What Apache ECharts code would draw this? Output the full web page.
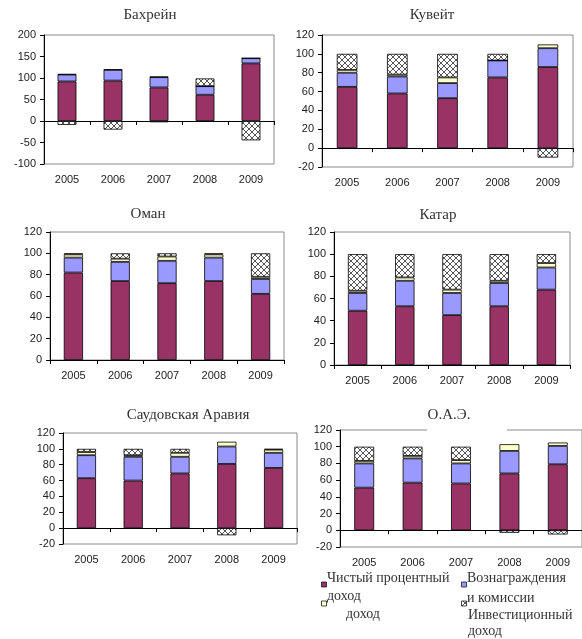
<!DOCTYPE html>
<html>
<head>
<meta charset="utf-8">
<script src="https://cdn.jsdelivr.net/npm/echarts@6/dist/echarts.min.js"></script>
<style>
html, body { margin: 0; padding: 0; background: #fff; }
#chart { width: 582px; height: 639px; }
</style>
</head>
<body>
<div id="chart"></div>
<script>
// Income structure of banks by country, % of total operating income
const years = ['2005', '2006', '2007', '2008', '2009'];
const countries = ['Бахрейн', 'Кувейт', 'Оман', 'Катар', 'Саудовская Аравия', 'О.А.Э.'];

// Net interest income
const interestBahrain = [92, 94, 78, 61, 134];
const interestKuwait  = [65, 58, 53, 75, 86];
const interestOman    = [82, 74, 72, 74, 62];
const interestQatar   = [49, 53, 45, 53, 68];
const interestSaudi   = [63, 60, 69, 81, 76];
const interestUAE     = [51, 57, 56, 68, 79];

// Fees and commissions
const feesBahrain = [16, 25, 24, 20, 12];
const feesKuwait  = [15, 18, 16, 18, 20];
const feesOman    = [14, 18, 21, 22, 14];
const feesQatar   = [16, 23, 20, 21, 20];
const feesSaudi   = [29, 30, 21, 22, 19];
const feesUAE     = [29, 29, 24, 27, 22];

// Other income
const otherBahrain = [1, 1, 1, 0, 0];
const otherKuwait  = [3, 2, 6, 0, 4];
const otherOman    = [3, 3, 4, 3, 2];
const otherQatar   = [2, 3, 3, 2, 4];
const otherSaudi   = [4, 2, 5, 6, 4];
const otherUAE     = [3, 3, 4, 8, 4];

// Investment income
const investBahrain = [-9, -20, -3, 18, -45];
const investKuwait  = [17, 22, 25, 7, -10];
const investOman    = [1, 5, 3, 1, 22];
const investQatar   = [33, 21, 32, 24, 8];
const investSaudi   = [4, 8, 5, -9, 1];
const investUAE     = [17, 11, 16, -3, -5];

// Value-axis tick labels per panel
const ticksBahrain = [-100, -50, 0, 50, 100, 150, 200];
const ticksKuwait  = [-20, 0, 20, 40, 60, 80, 100, 120];
const ticksOman    = [0, 20, 40, 60, 80, 100, 120];
const ticksQatar   = [0, 20, 40, 60, 80, 100, 120];
const ticksSaudi   = [-20, 0, 20, 40, 60, 80, 100, 120];
const ticksUAE     = [-20, 0, 20, 40, 60, 80, 100, 120];

const legendInterest = ['Чистый процентный', 'доход'];
const legendFees = ['Вознаграждения', 'и комиссии'];
const legendOther = ['доход'];
const legendInvest = ['Инвестиционный', 'доход'];

const panels = [
  { interest: interestBahrain, fees: feesBahrain, other: otherBahrain, invest: investBahrain, ticks: ticksBahrain },
  { interest: interestKuwait,  fees: feesKuwait,  other: otherKuwait,  invest: investKuwait,  ticks: ticksKuwait },
  { interest: interestOman,    fees: feesOman,    other: otherOman,    invest: investOman,    ticks: ticksOman },
  { interest: interestQatar,   fees: feesQatar,   other: otherQatar,   invest: investQatar,   ticks: ticksQatar },
  { interest: interestSaudi,   fees: feesSaudi,   other: otherSaudi,   invest: investSaudi,   ticks: ticksSaudi },
  { interest: interestUAE,     fees: feesUAE,     other: otherUAE,     invest: investUAE,     ticks: ticksUAE }
];

// Plot rectangles and title anchors
const layout = [
  { left: 44,  top: 35,  width: 230, height: 129, titleX: 150, titleY: 8 },
  { left: 322, top: 35,  width: 251, height: 132, titleX: 432, titleY: 8 },
  { left: 50,  top: 232, width: 234, height: 128, titleX: 148, titleY: 207 },
  { left: 334, top: 232, width: 236, height: 133, titleX: 438, titleY: 208 },
  { left: 63,  top: 433, width: 234, height: 111, titleX: 188, titleY: 408 },
  { left: 340, top: 430, width: 243, height: 117, titleX: 449, titleY: 408 }
];

const COLORS = { interest: '#993366', fees: '#9999FF', other: '#FFFFCC' };
const SANS = 'Liberation Sans, Arial, sans-serif';
const SERIF = 'Liberation Serif, Times New Roman, serif';

// Cross-hatch fill for investment income
function makeHatch() {
  const c = document.createElement('canvas');
  c.width = 6; c.height = 6;
  const g = c.getContext('2d');
  g.fillStyle = '#fff';
  g.fillRect(0, 0, 6, 6);
  g.strokeStyle = '#444';
  g.lineWidth = 0.9;
  g.beginPath();
  g.moveTo(0, 0); g.lineTo(6, 6);
  g.moveTo(6, 0); g.lineTo(0, 6);
  g.stroke();
  return c;
}
const hatch = { image: makeHatch(), repeat: 'repeat' };

const grid = [], xAxis = [], yAxis = [], series = [], title = [];

panels.forEach((p, i) => {
  const L = layout[i];
  grid.push({
    left: L.left, top: L.top, width: L.width, height: L.height,
    show: true, borderColor: '#8a8a8a', borderWidth: 1, backgroundColor: 'transparent',
    containLabel: false
  });
  title.push({
    text: countries[i], left: L.titleX, top: L.titleY, textAlign: 'center', padding: 0,
    textStyle: { fontFamily: SERIF, fontSize: 15, fontWeight: 'normal', color: '#333' }
  });
  // axis along zero with ticks between categories
  xAxis.push({
    type: 'category', gridIndex: i, data: years,
    axisLine: { onZero: true, lineStyle: { color: '#000', width: 1 } },
    axisTick: { show: true, inside: false, length: 4, lineStyle: { color: '#000' } },
    axisLabel: { show: false }
  });
  // year labels along the bottom of the plot area
  xAxis.push({
    type: 'category', gridIndex: i, data: years, position: 'bottom',
    axisLine: { show: false, onZero: false },
    axisTick: { show: false },
    axisLabel: { show: true, margin: 10, fontFamily: SANS, fontSize: 11, color: '#222' }
  });
  const t = p.ticks;
  yAxis.push({
    type: 'value', gridIndex: i,
    min: t[0], max: t[t.length - 1], interval: t[1] - t[0],
    axisLine: { show: true, lineStyle: { color: '#000', width: 1 } },
    axisTick: { show: true, inside: false, length: 4, lineStyle: { color: '#000' } },
    axisLabel: { margin: 8, fontFamily: SANS, fontSize: 11, color: '#222' },
    splitLine: { show: false }
  });
  const common = {
    type: 'bar', xAxisIndex: i * 2, yAxisIndex: i, stack: 'total' + i,
    barWidth: '41%', animation: false,
    emphasis: { disabled: true }
  };
  const border = { borderColor: '#000', borderWidth: 0.8 };
  series.push(Object.assign({}, common, { name: 'interest', data: p.interest, itemStyle: Object.assign({ color: COLORS.interest }, border) }));
  series.push(Object.assign({}, common, { name: 'fees', data: p.fees, itemStyle: Object.assign({ color: COLORS.fees }, border) }));
  series.push(Object.assign({}, common, { name: 'other', data: p.other, itemStyle: Object.assign({ color: COLORS.other }, border) }));
  series.push(Object.assign({}, common, { name: 'invest', data: p.invest, itemStyle: Object.assign({ color: hatch }, border) }));
});

// Legend: small swatches with wrapped serif captions
function caption(lines, x, y0, step) {
  return lines.map((s, k) => ({
    type: 'text', left: x, top: y0 + k * step - 8,
    style: { text: s, font: '14px ' + SERIF, fill: '#333' }
  }));
}
function swatch(x, y, fill) {
  return { type: 'rect', shape: { x: x, y: y, width: 5, height: 5 }, style: { fill: fill, stroke: '#000', lineWidth: 0.7 } };
}
const graphic = [
  // white backing behind the О.А.Э. title interrupts the plot border
  { type: 'rect', z: 100, shape: { x: 427, y: 426, width: 80, height: 8 }, style: { fill: '#fff' } },
  swatch(321.5, 582, COLORS.interest),
  ...caption(legendInterest, 327, 579, 18),
  swatch(321.5, 601, COLORS.other),
  ...caption(legendOther, 346, 615, 18),
  swatch(461.5, 582, COLORS.fees),
  ...caption(legendFees, 467, 579, 20),
  swatch(461.5, 601, hatch),
  ...caption(legendInvest, 468, 616, 16)
];

const chart = echarts.init(document.getElementById('chart'), null, { renderer: 'canvas' });
chart.setOption({
  animation: false,
  backgroundColor: '#fff',
  title: title,
  grid: grid,
  xAxis: xAxis,
  yAxis: yAxis,
  series: series,
  graphic: graphic
});
</script>
</body>
</html>
